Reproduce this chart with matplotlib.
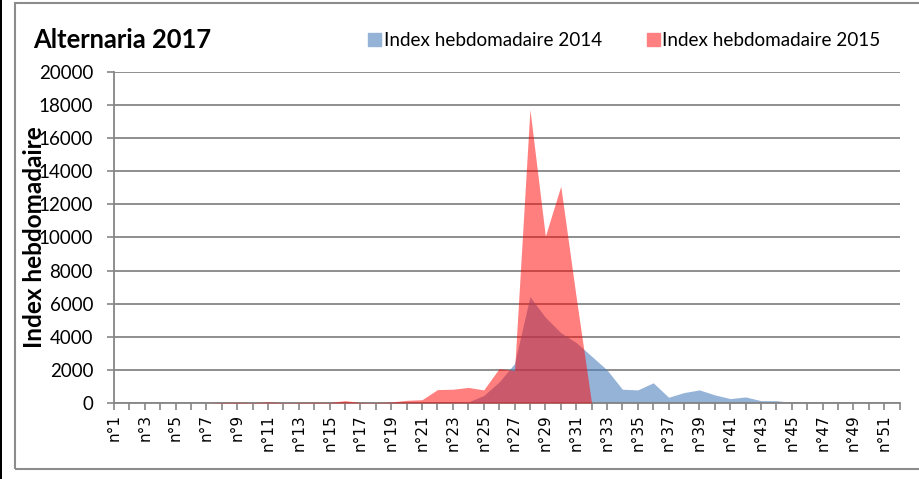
import matplotlib
matplotlib.use('Agg')
import matplotlib.pyplot as plt
from matplotlib.patches import Rectangle, Patch

# weekly index values, weeks n°1..n°52
weeks = [f"n°{i}" for i in range(1, 53)]
index_2014 = [0, 0, 0, 0, 0, 0, 0, 0, 0, 0,
              0, 0, 0, 0, 0, 0, 0, 0, 20, 30,
              40, 40, 50, 60, 450, 1270, 2380, 6420, 5180, 4250,
              3650, 2830, 2000, 830, 790, 1220, 345, 630, 790, 490,
              265, 365, 140, 140, 40, 20, 20, 20, 10, 0,
              0, 0]
index_2015 = [0, 0, 0, 0, 0, 0, 0, 30, 40, 20,
              60, 20, 30, 40, 30, 140, 30, 20, 60, 160,
              200, 810, 830, 940, 790, 2080, 1960, 17740, 10080, 13100,
              6400, 0, 0, 0, 0, 0, 0, 0, 0, 0,
              0, 0, 0, 0, 0, 0, 0, 0, 0, 0,
              0, 0]
yticks = list(range(0, 20001, 2000))

grey = '#868686'
blue = '#4F81BD'
red = '#FF0000'

fig = plt.figure(figsize=(9.19, 4.79), dpi=100)
ax = fig.add_axes([0.124, 0.1587, 0.855, 0.691])

x = list(range(1, len(weeks) + 1))
ax.fill_between(x, index_2014, 0, color=blue, alpha=0.6, linewidth=0, zorder=2)
ax.fill_between(x, index_2015, 0, color=red, alpha=0.5, linewidth=0, zorder=3)

ax.set_xlim(1, 52)
ax.set_ylim(0, 20000)
ax.set_yticks(yticks)
ax.set_yticklabels([str(v) for v in yticks], fontfamily='Lato', fontsize=13.5)
ax.set_xticks(x)
ax.set_xticklabels([w if i % 2 == 0 else '' for i, w in enumerate(weeks)],
                   rotation=90, fontfamily='DejaVu Sans', fontsize=11)
ax.tick_params(axis='both', length=5, width=1.2, color=grey, pad=3)
ax.tick_params(axis='y', pad=10)

ax.grid(axis='y', color=grey, linewidth=1.3, zorder=1)
ax.set_axisbelow(True)
for s in ['top', 'right']:
    ax.spines[s].set_visible(False)
for s in ['left', 'bottom']:
    ax.spines[s].set_color(grey)
    ax.spines[s].set_linewidth(1.3)

ax.set_ylabel('Index hebdomadaire', fontfamily='Lato', fontweight='bold',
              fontsize=17.5)
ax.yaxis.set_label_coords(-0.087, 0.5)

fig.text(0.036, 0.916, 'Alternaria 2017', fontfamily='Lato', fontweight='bold',
         fontsize=18.4, va='center', ha='left')

handles = [Patch(color='#95B3D7', label='Index hebdomadaire 2014'),
           Patch(color='#FF8080', label='Index hebdomadaire 2015')]
fig.legend(handles=handles, ncol=2, loc='center left',
           bbox_to_anchor=(0.382, 0.916), frameon=False,
           prop={'family': 'Lato', 'size': 13.6},
           handlelength=0.7, handleheight=0.7, handletextpad=0.12,
           columnspacing=2.4)

# chart border
fig.patches.append(Rectangle((15 / 919, 10 / 479), 1.0, 466 / 479,
                             transform=fig.transFigure, fill=False,
                             edgecolor='#8C8C8C', linewidth=1.5))
fig.patches.append(Rectangle((0, 0), 1.5 / 919, 1.0, transform=fig.transFigure,
                             color='black', linewidth=0))

fig.savefig('out.png', dpi=100)
